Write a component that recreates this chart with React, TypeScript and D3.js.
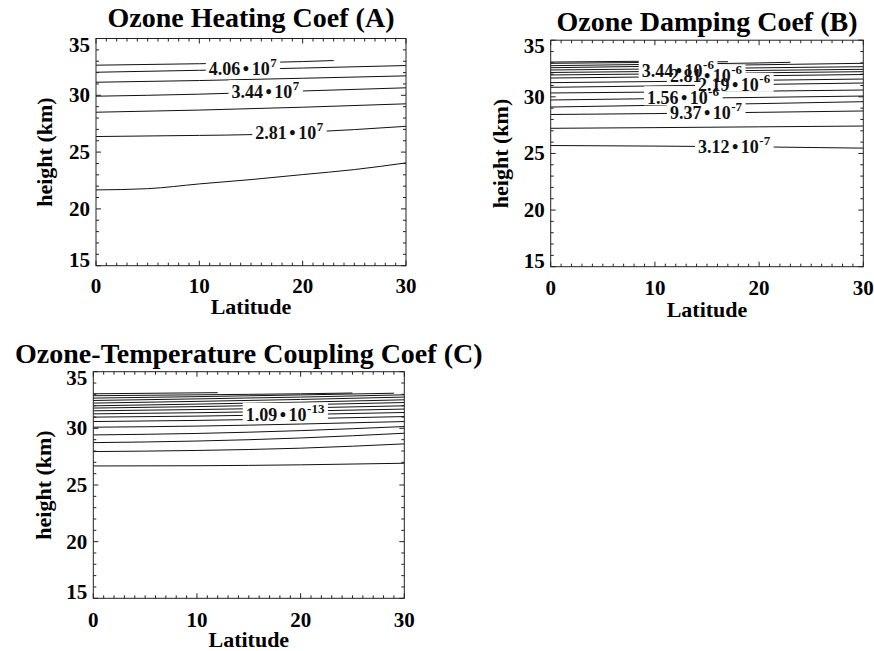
import React, { useEffect, useRef } from 'react';
import * as d3 from 'd3';

type Pt = [number, number]; // [latitude, height km]

interface ContourLabel {
  line: number;
  lat: number;
  mant: string;
  exp: string;
}

// contour lines, each as [lat, km] points
const HEATING_LINES: Pt[][] = [
  [[0, 32.65], [10, 32.78], [20, 32.97], [23, 33.06]],
  [[0, 32.03], [10, 32.2], [20, 32.4], [30, 32.62]],
  [[0, 31.15], [10, 31.3], [20, 31.5], [30, 31.71]],
  [[0, 29.92], [10, 30.1], [20, 30.38], [30, 30.66]],
  [[0, 28.51], [10, 28.7], [20, 28.95], [30, 29.25]],
  [[0, 26.37], [10, 26.47], [15, 26.54], [20, 26.74], [25, 26.98], [30, 27.27]],
  [[0, 21.67], [5, 21.78], [10, 22.2], [15, 22.58], [20, 23.02], [25, 23.46], [30, 24.05]],
];

const HEATING_LABELS: ContourLabel[] = [
  { line: 1, lat: 14.2, mant: '4.06', exp: '7' },
  { line: 3, lat: 16.4, mant: '3.44', exp: '7' },
  { line: 5, lat: 18.7, mant: '2.81', exp: '7' },
];

const DAMPING_LINES: Pt[][] = [
  [[0, 25.7], [10, 25.65], [20, 25.58], [30, 25.47]],
  [[0, 27.22], [10, 27.28], [20, 27.35], [30, 27.42]],
  [[0, 28.44], [10, 28.52], [20, 28.63], [30, 28.75]],
  [[0, 29.1], [10, 29.25], [20, 29.4], [30, 29.57]],
  [[0, 29.72], [10, 29.84], [20, 29.95], [30, 30.07]],
  [[0, 30.34], [10, 30.42], [20, 30.5], [30, 30.6]],
  [[0, 30.84], [10, 30.96], [20, 31.09], [30, 31.22]],
  [[0, 31.25], [10, 31.35], [20, 31.46], [30, 31.57]],
  [[0, 31.66], [10, 31.76], [20, 31.86], [30, 31.97]],
  [[0, 31.93], [10, 32.02], [20, 32.12], [30, 32.22]],
  [[0, 32.15], [10, 32.24], [20, 32.33], [30, 32.43]],
  [[0, 32.37], [10, 32.46], [20, 32.56], [30, 32.66]],
  [[0, 32.57], [10, 32.7], [20, 32.83], [30, 32.96]],
  [[0, 32.75], [10, 32.87], [20, 32.99], [23, 33.05]],
  [[0, 32.96], [10, 33.04], [17, 33.1]],
  [[0, 33.07], [10, 33.15]],
];

const DAMPING_LABELS: ContourLabel[] = [
  { line: 10, lat: 12.2, mant: '3.44', exp: '-6' },
  { line: 8, lat: 14.9, mant: '2.81', exp: '-6' },
  { line: 6, lat: 17.6, mant: '2.19', exp: '-6' },
  { line: 4, lat: 12.7, mant: '1.56', exp: '-6' },
  { line: 2, lat: 14.9, mant: '9.37', exp: '-7' },
  { line: 0, lat: 17.6, mant: '3.12', exp: '-7' },
];

const COUPLING_LINES: Pt[][] = [
  [[0, 26.68], [10, 26.7], [20, 26.78], [30, 26.92]],
  [[0, 27.95], [10, 28.05], [20, 28.25], [30, 28.63]],
  [[0, 28.74], [10, 28.88], [20, 29.15], [30, 29.57]],
  [[0, 29.42], [10, 29.55], [20, 29.8], [30, 30.16]],
  [[0, 30.1], [10, 30.2], [20, 30.38], [30, 30.6]],
  [[0, 30.6], [10, 30.7], [20, 30.85], [30, 31.04]],
  [[0, 30.99], [10, 31.08], [20, 31.22], [30, 31.4]],
  [[0, 31.28], [10, 31.38], [20, 31.52], [30, 31.7]],
  [[0, 31.55], [10, 31.66], [20, 31.8], [30, 31.99]],
  [[0, 31.79], [10, 31.92], [20, 32.08], [30, 32.28]],
  [[0, 31.99], [10, 32.14], [20, 32.31], [30, 32.52]],
  [[0, 32.23], [10, 32.38], [20, 32.55], [30, 32.76]],
  [[0, 32.46], [10, 32.6], [20, 32.76], [30, 32.96]],
  [[0, 32.67], [10, 32.8], [20, 32.95], [29, 33.1]],
  [[0, 32.88], [10, 32.96], [20, 33.05], [25, 33.12]],
  [[0, 33.05], [12, 33.15]],
];

const COUPLING_LABELS: ContourLabel[] = [{ line: 6, lat: 18.5, mant: '1.09', exp: '-13' }];

const LAT_DOMAIN: [number, number] = [0, 30];
const HEIGHT_DOMAIN: [number, number] = [15, 35];
const LAT_TICKS = [0, 10, 20, 30];
const HEIGHT_TICKS = [15, 20, 25, 30, 35];

interface PanelSpec {
  title: string;
  lines: Pt[][];
  labels: ContourLabel[];
  left: number;
  right: number;
  top: number;
  bottom: number;
  titleY: number;
  tickLabelY: number;
  xTitleY: number;
  yTitleX: number;
}

const PANELS: PanelSpec[] = [
  {
    title: 'Ozone Heating Coef (A)',
    lines: HEATING_LINES,
    labels: HEATING_LABELS,
    left: 96, right: 406, top: 38.5, bottom: 265.7,
    titleY: 27, tickLabelY: 293, xTitleY: 314, yTitleX: 51.5,
  },
  {
    title: 'Ozone Damping Coef (B)',
    lines: DAMPING_LINES,
    labels: DAMPING_LABELS,
    left: 550.7, right: 863.3, top: 40.2, bottom: 266.7,
    titleY: 31, tickLabelY: 295, xTitleY: 316.5, yTitleX: 508,
  },
  {
    title: 'Ozone-Temperature Coupling Coef (C)',
    lines: COUPLING_LINES,
    labels: COUPLING_LABELS,
    left: 93.3, right: 404.3, top: 371.7, bottom: 598.3,
    titleY: 363, tickLabelY: 626.5, xTitleY: 647, yTitleX: 50.5,
  },
];

const FONT = '"Liberation Serif", "Times New Roman", serif';

// linear lookup of a contour's height at a latitude
const heightAt = (pts: Pt[], lat: number): number => {
  for (let i = 1; i < pts.length; i++) {
    if (lat <= pts[i][0]) {
      const [x0, y0] = pts[i - 1];
      const [x1, y1] = pts[i];
      return y0 + ((lat - x0) / (x1 - x0)) * (y1 - y0);
    }
  }
  return pts[pts.length - 1][1];
};

const drawPanel = (root: d3.Selection<SVGSVGElement, unknown, null, undefined>, p: PanelSpec) => {
  const x = d3.scaleLinear().domain(LAT_DOMAIN).range([p.left, p.right]);
  const y = d3.scaleLinear().domain(HEIGHT_DOMAIN).range([p.bottom, p.top]);
  const g = root.append('g').style('font-family', FONT).style('font-weight', 'bold');

  // contours
  const line = d3
    .line<Pt>()
    .x((d) => x(d[0]))
    .y((d) => y(d[1]))
    .curve(d3.curveMonotoneX);

  g.append('g')
    .selectAll('path')
    .data(p.lines)
    .enter()
    .append('path')
    .attr('d', (d) => line(d))
    .attr('fill', 'none')
    .attr('stroke', '#111')
    .attr('stroke-width', 1);

  // label blanking boxes go under the text
  const blankG = g.append('g');
  const textG = g.append('g');

  p.labels.forEach((lab) => {
    const cx = x(lab.lat);
    const cy = y(heightAt(p.lines[lab.line], lab.lat));
    const t = textG
      .append('text')
      .attr('x', cx)
      .attr('y', cy + 6)
      .attr('text-anchor', 'middle')
      .style('font-size', '18px')
      .attr('fill', '#111');
    t.append('tspan').text(lab.mant);
    t.append('tspan').attr('dx', 2.5).text('•');
    t.append('tspan').attr('dx', 2.5).text('10');
    t.append('tspan').attr('dx', 0.5).attr('dy', -8).style('font-size', '13px').text(lab.exp);

    const bb = (t.node() as SVGTextElement).getBBox();
    blankG
      .append('rect')
      .attr('x', bb.x - 3)
      .attr('y', cy - 12)
      .attr('width', bb.width + 6)
      .attr('height', 19)
      .attr('fill', '#fff');
  });

  // ticks on all four sides
  const axisG = g.append('g').attr('stroke', '#222').attr('stroke-width', 1);
  d3.range(LAT_DOMAIN[0], LAT_DOMAIN[1] + 1).forEach((v) => {
    const len = v % 10 === 0 ? 5 : 3;
    const xv = x(v);
    axisG.append('line').attr('x1', xv).attr('x2', xv).attr('y1', p.bottom).attr('y2', p.bottom - len);
    axisG.append('line').attr('x1', xv).attr('x2', xv).attr('y1', p.top).attr('y2', p.top + len);
  });
  d3.range(HEIGHT_DOMAIN[0], HEIGHT_DOMAIN[1] + 1).forEach((v) => {
    const len = v % 5 === 0 ? 5 : 3;
    const yv = y(v);
    axisG.append('line').attr('x1', p.left).attr('x2', p.left + len).attr('y1', yv).attr('y2', yv);
    axisG.append('line').attr('x1', p.right).attr('x2', p.right - len).attr('y1', yv).attr('y2', yv);
  });
  axisG
    .append('rect')
    .attr('x', p.left)
    .attr('y', p.top)
    .attr('width', p.right - p.left)
    .attr('height', p.bottom - p.top)
    .attr('fill', 'none');

  // tick labels
  g.append('g')
    .selectAll('text')
    .data(LAT_TICKS)
    .enter()
    .append('text')
    .attr('x', (d) => x(d))
    .attr('y', p.tickLabelY)
    .attr('text-anchor', 'middle')
    .style('font-size', '21px')
    .text((d) => d);

  g.append('g')
    .selectAll('text')
    .data(HEIGHT_TICKS)
    .enter()
    .append('text')
    .attr('x', p.left - 6)
    .attr('y', (d) => Math.min(Math.max(y(d), p.top + 6), p.bottom - 6) + 7)
    .attr('text-anchor', 'end')
    .style('font-size', '21px')
    .text((d) => d);

  // titles
  g.append('text')
    .attr('x', (p.left + p.right) / 2)
    .attr('y', p.titleY)
    .attr('text-anchor', 'middle')
    .style('font-size', '28px')
    .text(p.title);

  g.append('text')
    .attr('x', (p.left + p.right) / 2)
    .attr('y', p.xTitleY)
    .attr('text-anchor', 'middle')
    .style('font-size', '22px')
    .text('Latitude');

  g.append('text')
    .attr('transform', `translate(${p.yTitleX},${(p.top + p.bottom) / 2}) rotate(-90)`)
    .attr('text-anchor', 'middle')
    .style('font-size', '22px')
    .text('height (km)');
};

const App: React.FC = () => {
  const ref = useRef<SVGSVGElement>(null);

  useEffect(() => {
    if (!ref.current) return;
    const svg = d3.select(ref.current);
    svg.selectAll('*').remove();
    PANELS.forEach((p) => drawPanel(svg, p));
  }, []);

  return (
    <div style={{ position: 'absolute', left: 0, top: 0, width: 874, height: 651, background: '#fff' }}>
      <svg ref={ref} width={874} height={651} style={{ display: 'block' }} />
    </div>
  );
};

export default App;
